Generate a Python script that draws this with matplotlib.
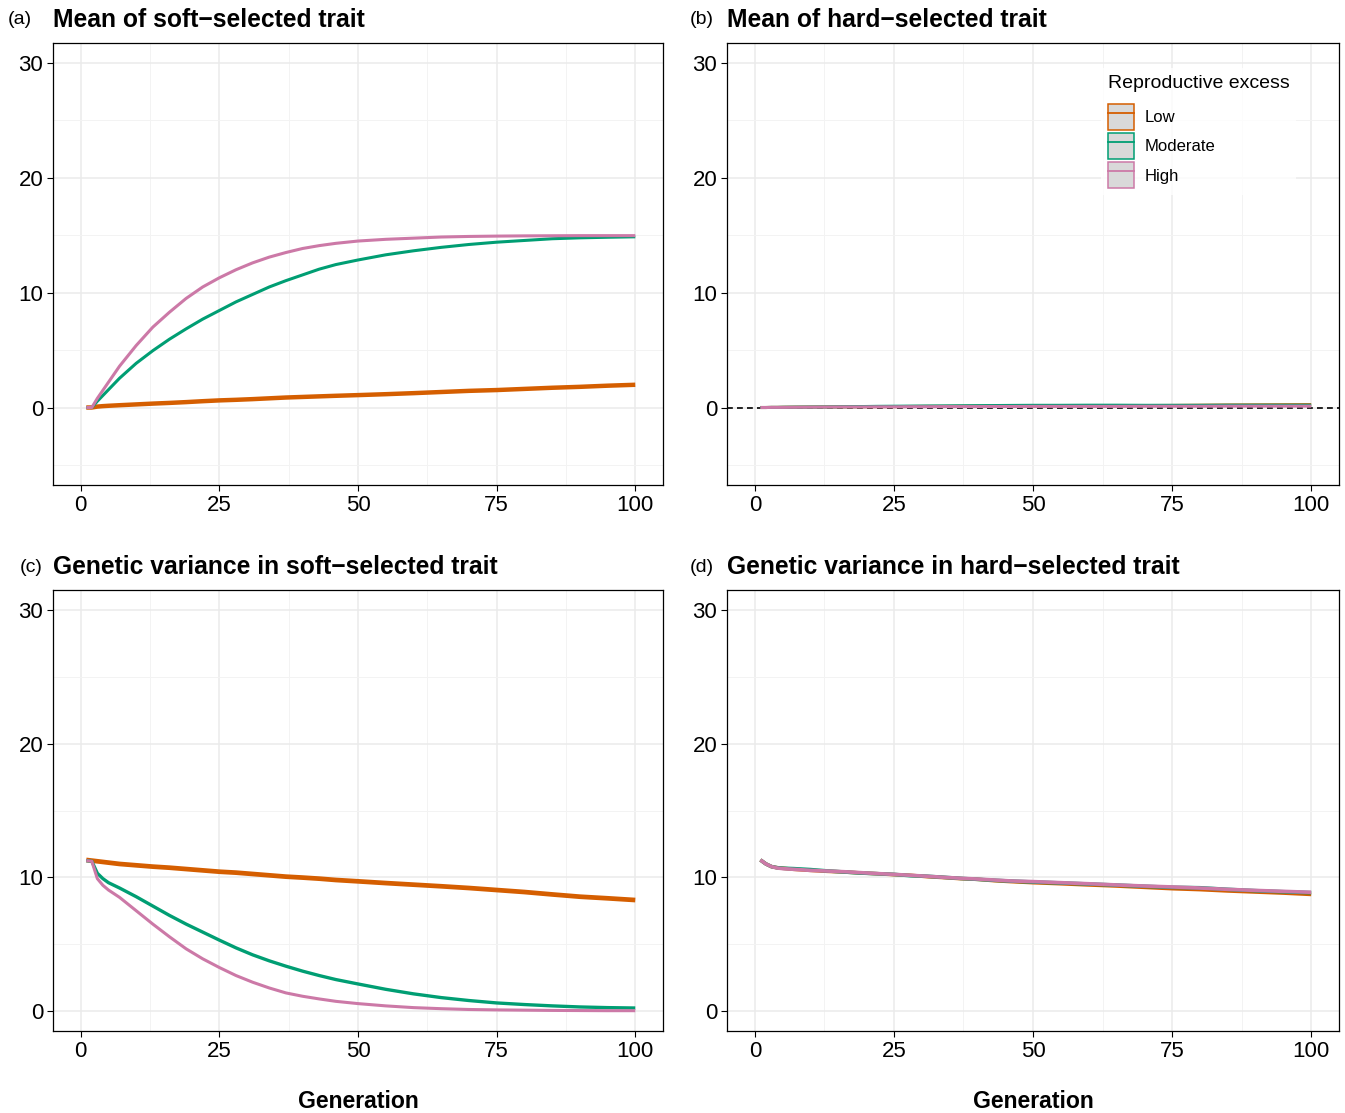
import matplotlib
matplotlib.use("Agg")
import matplotlib.pyplot as plt
from matplotlib.patches import Patch
from matplotlib.lines import Line2D
from matplotlib.legend_handler import HandlerTuple

plt.rcParams['font.family'] = ['Liberation Sans', 'DejaVu Sans']

generation = [1, 2, 3, 4, 5, 7, 10, 13, 16, 19, 22, 25, 28, 31, 34, 37, 40, 43, 46, 50,
              55, 60, 65, 70, 75, 80, 85, 90, 95, 100]

groups = ["Low", "Moderate", "High"]
colors = {"Low": "#D55E00", "Moderate": "#009E73", "High": "#CC79A7"}

# (a) Mean of soft-selected trait
mean_soft_low = [0, 0, 0.08, 0.12, 0.15, 0.2, 0.27, 0.34, 0.4, 0.47, 0.55, 0.62, 0.67, 0.73, 0.8,
                 0.87, 0.92, 0.97, 1.02, 1.08, 1.16, 1.25, 1.35, 1.45, 1.52, 1.62, 1.72, 1.8, 1.9, 1.98]
mean_soft_mod = [0, 0, 0.55, 1.05, 1.55, 2.55, 3.85, 4.95, 5.95, 6.85, 7.7, 8.45, 9.2, 9.85, 10.5,
                 11.05, 11.55, 12.05, 12.45, 12.85, 13.3, 13.65, 13.95, 14.2, 14.4, 14.55, 14.7,
                 14.78, 14.83, 14.87]
mean_soft_high = [0, 0, 0.8, 1.5, 2.2, 3.6, 5.4, 7.0, 8.3, 9.5, 10.5, 11.3, 12.0, 12.6, 13.1, 13.5,
                  13.85, 14.1, 14.3, 14.5, 14.65, 14.75, 14.85, 14.9, 14.93, 14.95, 14.96, 14.97,
                  14.97, 14.97]

# (b) Mean of hard-selected trait
mean_hard_low = [0, 0, 0.01, 0.01, 0.02, 0.03, 0.04, 0.05, 0.06, 0.07, 0.08, 0.08, 0.09, 0.1, 0.1,
                 0.11, 0.12, 0.12, 0.13, 0.14, 0.15, 0.15, 0.16, 0.17, 0.18, 0.2, 0.22, 0.23, 0.24, 0.25]
mean_hard_mod = [0, 0, 0.01, 0.01, 0.02, 0.03, 0.04, 0.05, 0.07, 0.08, 0.1, 0.11, 0.12, 0.13, 0.14,
                 0.15, 0.16, 0.17, 0.18, 0.19, 0.19, 0.2, 0.2, 0.19, 0.19, 0.19, 0.2, 0.2, 0.2, 0.2]
mean_hard_high = [0, 0, 0.01, 0.01, 0.01, 0.02, 0.03, 0.04, 0.05, 0.05, 0.06, 0.06, 0.07, 0.07, 0.08,
                  0.08, 0.08, 0.09, 0.09, 0.1, 0.1, 0.1, 0.1, 0.11, 0.11, 0.11, 0.12, 0.12, 0.12, 0.12]

# (c) Genetic variance in soft-selected trait
var_soft_low = [11.3, 11.25, 11.2, 11.15, 11.1, 11.0, 10.9, 10.8, 10.72, 10.62, 10.52, 10.42, 10.35,
                10.25, 10.15, 10.05, 9.98, 9.9, 9.8, 9.7, 9.57, 9.45, 9.33, 9.2, 9.05, 8.9, 8.72,
                8.55, 8.43, 8.3]
var_soft_mod = [11.25, 11.2, 10.3, 9.9, 9.6, 9.2, 8.55, 7.85, 7.15, 6.5, 5.9, 5.3, 4.72, 4.2, 3.75,
                3.35, 2.98, 2.65, 2.35, 2.02, 1.62, 1.28, 1.0, 0.78, 0.6, 0.48, 0.38, 0.3, 0.25, 0.22]
var_soft_high = [11.25, 11.2, 9.9, 9.4, 9.05, 8.5, 7.5, 6.5, 5.55, 4.65, 3.9, 3.25, 2.65, 2.15, 1.72,
                 1.35, 1.1, 0.9, 0.72, 0.55, 0.38, 0.25, 0.17, 0.11, 0.08, 0.06, 0.04, 0.03, 0.02, 0.02]

# (d) Genetic variance in hard-selected trait
var_hard_low = [11.3, 11.0, 10.8, 10.72, 10.68, 10.6, 10.52, 10.45, 10.4, 10.33, 10.27, 10.2, 10.15,
                10.05, 9.98, 9.9, 9.85, 9.75, 9.68, 9.6, 9.52, 9.43, 9.35, 9.25, 9.15, 9.08, 8.98,
                8.9, 8.82, 8.72]
var_hard_mod = [11.3, 11.0, 10.8, 10.72, 10.68, 10.65, 10.58, 10.48, 10.4, 10.32, 10.27, 10.22, 10.12,
                10.08, 10.0, 9.92, 9.85, 9.78, 9.72, 9.65, 9.58, 9.5, 9.42, 9.33, 9.25, 9.22, 9.1,
                9.0, 8.92, 8.85]
var_hard_high = [11.3, 11.0, 10.8, 10.7, 10.65, 10.6, 10.52, 10.47, 10.42, 10.35, 10.28, 10.22, 10.15,
                 10.08, 10.0, 9.93, 9.87, 9.8, 9.73, 9.68, 9.6, 9.52, 9.43, 9.35, 9.28, 9.2, 9.1,
                 9.02, 8.95, 8.88]

panels = [
    ("(a)", "Mean of soft\u2212selected trait", [mean_soft_low, mean_soft_mod, mean_soft_high]),
    ("(b)", "Mean of hard\u2212selected trait", [mean_hard_low, mean_hard_mod, mean_hard_high]),
    ("(c)", "Genetic variance in soft\u2212selected trait", [var_soft_low, var_soft_mod, var_soft_high]),
    ("(d)", "Genetic variance in hard\u2212selected trait", [var_hard_low, var_hard_mod, var_hard_high]),
]

W, H = 1345, 1113
fig = plt.figure(figsize=(W / 100, H / 100), dpi=100)

# pixel boxes (left, top, right, bottom)
boxes = [(53, 43, 663, 485), (727, 43, 1339, 485), (53, 590, 663, 1031), (727, 590, 1339, 1031)]

def fbox(b):
    l, t, r, bt = b
    return [l / W, 1 - bt / H, (r - l) / W, (bt - t) / H]

lw_map = {0: [3.2, 2.2, 2.2], 1: [2.2, 2.2, 2.2], 2: [3.4, 2.4, 2.2], 3: [2.6, 2.6, 2.6]}

axes = []
for i, (tag, title, series) in enumerate(panels):
    ax = fig.add_axes(fbox(boxes[i]))
    axes.append(ax)
    ax.set_xlim(-5, 105)
    if i < 2:
        ax.set_ylim(-6.75, 31.75)
        ax.set_yticks([0, 10, 20, 30])
        ax.set_yticks([-5, 5, 15, 25], minor=True)
    else:
        ax.set_ylim(-1.5, 31.5)
        ax.set_yticks([0, 10, 20, 30])
        ax.set_yticks([5, 15, 25], minor=True)
    ax.set_xticks([0, 25, 50, 75, 100])
    ax.set_xticks([12.5, 37.5, 62.5, 87.5], minor=True)
    ax.grid(which='major', color='#EBEBEB', linewidth=1.1, zorder=0)
    ax.grid(which='minor', color='#F3F3F3', linewidth=0.7, zorder=0)
    ax.set_axisbelow(True)
    ax.tick_params(which='major', length=4, width=0.8, color='black', labelsize=16,
                   labelcolor='black', pad=3)
    ax.tick_params(which='minor', length=0)
    for sp in ax.spines.values():
        sp.set_color('black')
        sp.set_linewidth(0.9)
    if i == 1:
        ax.axhline(0, color='black', linestyle=(0, (3.5, 2.5)), linewidth=1.2, zorder=1)
    for k, (g, vals) in enumerate(zip(groups, series)):
        ax.plot(generation, vals, color=colors[g], linewidth=lw_map[i][k], zorder=2 + k,
                solid_capstyle='butt', solid_joinstyle='round')

for i, (tag, title, series) in enumerate(panels):
    l = boxes[i][0]
    ty = 20 if i < 2 else 567
    fig.text(l / W, 1 - ty / H, title, fontsize=17.7, fontweight='bold', ha='left', va='center')
    tag_x = [8, 690, 20, 690][i]
    fig.text(tag_x / W, 1 - ty / H, tag, fontsize=14, ha='left', va='center')

for i in (2, 3):
    l, t, r, bt = boxes[i]
    fig.text(((l + r) / 2) / W, 1 - 1101 / H, "Generation", fontsize=16.6, fontweight='bold',
             ha='center', va='center')

handles = [(Patch(facecolor='#D9D9D9', edgecolor=colors[g], linewidth=1.1),
            Line2D([], [], color=colors[g], linewidth=1.3)) for g in groups]
leg = axes[1].legend(handles, groups, handler_map={tuple: HandlerTuple(ndivide=1)},
                     title="Reproductive excess", loc='upper left',
                     bbox_to_anchor=(1101 / W, 1 - 68 / H), bbox_transform=fig.transFigure,
                     frameon=True, fancybox=False, fontsize=12, title_fontsize=14,
                     handlelength=1.55, handleheight=2.0, handletextpad=0.65, labelspacing=0.2,
                     borderpad=0.4, borderaxespad=0)
leg.get_frame().set_facecolor('white')
leg.get_frame().set_edgecolor('none')
leg._legend_box.align = "left"
leg._legend_box.sep = 9

fig.savefig("out.png", dpi=100)
